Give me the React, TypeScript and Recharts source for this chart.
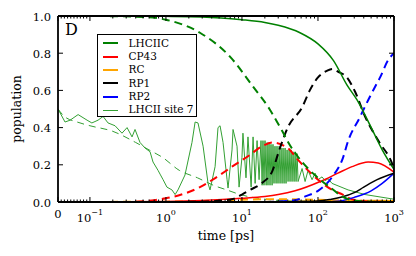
import React from 'react';
import { LineChart, Line, XAxis, YAxis, Legend } from 'recharts';

// time axis is symlog: linear from 0 to 0.1 ps, log above
const LIN_T = 0.1;
const LIN_SPAN = 0.42; // width of linear part, in decades
const toAxis = (t: number) => (t <= LIN_T ? (t / LIN_T) * LIN_SPAN : LIN_SPAN + Math.log10(t / LIN_T));
const X_MAX = toAxis(1000);

const xMajorTimes = [0, 0.1, 1, 10, 100, 1000];
const xMajorExp = ['', '−1', '0', '1', '2', '3'];
const xMinorTimes = [
  0.01, 0.02, 0.03, 0.04, 0.05, 0.06, 0.07, 0.08, 0.09,
  0.2, 0.3, 0.4, 0.5, 0.6, 0.7, 0.8, 0.9,
  2, 3, 4, 5, 6, 7, 8, 9,
  20, 30, 40, 50, 60, 70, 80, 90,
  200, 300, 400, 500, 600, 700, 800, 900,
];
const yTicks = [0, 0.2, 0.4, 0.6, 0.8, 1.0];

// LHCIIC
const lhciicT = [0, 0.1, 1, 3, 10, 20, 30, 58, 100, 160, 240, 325, 515, 700, 1000];
const lhciicV = [1.0, 1.0, 0.998, 0.995, 0.98, 0.965, 0.95, 0.91, 0.85, 0.76, 0.63, 0.55, 0.39, 0.28, 0.175];
const lhciicDashT = [0, 0.1, 0.5, 1, 2.8, 7, 14, 23, 29, 34, 42, 53, 74, 107, 154, 207, 280, 500, 1000];
const lhciicDashV = [1.0, 1.0, 0.995, 0.98, 0.91, 0.78, 0.62, 0.5, 0.43, 0.38, 0.31, 0.25, 0.18, 0.12, 0.07, 0.03, 0.01, 0.002, 0];

// CP43
const cp43T = [0, 0.1, 1, 3, 10, 20, 30, 50, 107, 183, 280, 457, 620, 1000];
const cp43V = [0, 0, 0.003, 0.008, 0.02, 0.03, 0.04, 0.06, 0.11, 0.155, 0.19, 0.215, 0.21, 0.16];
const cp43DashT = [0, 0.3, 0.7, 1.0, 1.3, 1.6, 2.8, 4.5, 7.4, 12.4, 18.4, 25, 40, 55, 74, 107, 154, 212, 280, 500, 1000];
const cp43DashV = [0, 0, 0.01, 0.02, 0.03, 0.04, 0.08, 0.13, 0.19, 0.25, 0.3, 0.32, 0.29, 0.225, 0.17, 0.11, 0.065, 0.04, 0.015, 0.002, 0];

// RC
const rcT = [0, 10, 30, 100, 300, 1000];
const rcV = [0, 0, 0.002, 0.005, 0.008, 0.007];
const rcDashT = [0, 1, 5, 10, 30, 100, 200, 400, 1000];
const rcDashV = [0, 0.002, 0.008, 0.012, 0.015, 0.012, 0.008, 0.003, 0];

// RP1
const rp1T = [0, 10, 50, 100, 150, 200, 300, 400, 600, 1000];
const rp1V = [0, 0, 0.002, 0.005, 0.015, 0.025, 0.05, 0.08, 0.12, 0.155];
const rp1DashT = [0, 1, 3, 7.4, 10, 12.8, 18, 25, 31, 40, 62, 78, 100, 131, 155, 185, 240, 310, 415, 620, 960, 1000];
const rp1DashV = [0, 0, 0.002, 0.015, 0.04, 0.065, 0.1, 0.165, 0.28, 0.4, 0.51, 0.6, 0.67, 0.705, 0.715, 0.7, 0.67, 0.59, 0.46, 0.33, 0.2, 0.18];

// RP2
const rp2T = [0, 100, 150, 200, 300, 500, 700, 1000];
const rp2V = [0, 0, 0.002, 0.006, 0.025, 0.06, 0.1, 0.155];
const rp2DashT = [0, 20, 50, 68, 100, 154, 212, 250, 350, 460, 564, 656, 830, 1000];
const rp2DashV = [0, 0, 0.01, 0.03, 0.06, 0.135, 0.235, 0.33, 0.45, 0.55, 0.62, 0.67, 0.76, 0.8];

// LHCII site 7
const site7T = [
  0, 0.022, 0.038, 0.063, 0.091, 0.106, 0.128, 0.149, 0.173, 0.214, 0.264, 0.308, 0.358, 0.392, 0.456, 0.531,
  0.618, 0.676, 0.787, 0.836, 0.917, 1.03, 1.2, 1.32, 1.44, 1.78, 2.2, 2.42, 2.64, 3.08, 3.58, 3.8, 4.43, 4.84,
  5.15, 5.64, 6.37, 6.56, 7.4, 7.63, 8.61, 9.16, 10.0, 10.3, 11.3, 12.0, 13.2, 14.0, 14.9, 15.8, 16.8, 17.8,
  18.4, 18.9, 19.5, 20.1, 20.8, 21.4, 22.0, 22.7, 23.4, 24.1, 24.9, 25.6, 26.4, 27.2, 28.1, 28.9, 29.8, 30.8,
  31.7, 32.7, 33.7, 34.7, 35.8, 36.9, 38.0, 39.2, 40.4, 41.7, 42.9, 44.3, 45.6, 47.0, 48.5, 50.0, 51.5, 53.1, 54.7,
  61.8, 67.7, 74.0, 83.6, 91.6, 100, 113, 124, 136, 153, 249, 417, 1000,
];
const site7V = [
  0.5, 0.43, 0.44, 0.47, 0.44, 0.425, 0.44, 0.46, 0.425, 0.41, 0.37, 0.4, 0.35, 0.39, 0.32, 0.29,
  0.27, 0.215, 0.17, 0.15, 0.12, 0.08, 0.065, 0.04, 0.065, 0.145, 0.32, 0.43, 0.425, 0.3, 0.1, 0.065, 0.19, 0.4,
  0.41, 0.32, 0.12, 0.075, 0.28, 0.39, 0.3, 0.08, 0.24, 0.37, 0.13, 0.35, 0.08, 0.35, 0.1, 0.33, 0.12, 0.33,
  0.09, 0.33, 0.09, 0.33, 0.09, 0.32, 0.09, 0.32, 0.09, 0.31, 0.09, 0.31, 0.1, 0.3, 0.1, 0.3, 0.1, 0.3,
  0.1, 0.29, 0.1, 0.29, 0.1, 0.29, 0.1, 0.28, 0.11, 0.28, 0.11, 0.28, 0.11, 0.27, 0.11, 0.27, 0.11, 0.26, 0.11,
  0.18, 0.11, 0.17, 0.12, 0.155, 0.12, 0.135, 0.115, 0.125, 0.1, 0.065, 0.04, 0.015,
];
const site7DashT = [0, 0.02, 0.06, 0.1, 0.2, 0.4, 0.6, 0.9, 1.5, 2.6, 4.2, 6.3, 9.5, 20, 50, 1000];
const site7DashV = [0.5, 0.46, 0.43, 0.41, 0.38, 0.32, 0.28, 0.24, 0.17, 0.13, 0.09, 0.065, 0.04, 0.015, 0.005, 0];

const legendNames = ['LHCIIC', 'CP43', 'RC', 'RP1', 'RP2', 'LHCII site 7'];

const GREEN = '#008000';
const LIGHT_GREEN = '#33a033';
const RED = '#ff0000';
const ORANGE = '#ffa500';
const BLACK = '#000000';
const BLUE = '#0000ff';
const legendColors = [GREEN, RED, ORANGE, BLACK, BLUE, LIGHT_GREEN];
const legendWidths = [2, 2, 2, 2, 2, 1.2];

const FONT = '"DejaVu Serif", serif';

const pts = (ts: number[], vs: number[]) => ts.map((t, i) => ({ x: toAxis(t), y: vs[i] }));

const series = [
  { key: 'site7Dash', data: pts(site7DashT, site7DashV), color: LIGHT_GREEN, w: 1, dash: '7 5', type: 'monotone' },
  { key: 'site7', data: pts(site7T, site7V), color: LIGHT_GREEN, w: 1, dash: undefined, type: 'linear' },
  { key: 'rcDash', data: pts(rcDashT, rcDashV), color: ORANGE, w: 2, dash: '8 5', type: 'monotone' },
  { key: 'rc', data: pts(rcT, rcV), color: ORANGE, w: 1.5, dash: undefined, type: 'monotone' },
  { key: 'cp43Dash', data: pts(cp43DashT, cp43DashV), color: RED, w: 2, dash: '8 5', type: 'monotone' },
  { key: 'cp43', data: pts(cp43T, cp43V), color: RED, w: 1.5, dash: undefined, type: 'monotone' },
  { key: 'rp2Dash', data: pts(rp2DashT, rp2DashV), color: BLUE, w: 2, dash: '8 5', type: 'monotone' },
  { key: 'rp2', data: pts(rp2T, rp2V), color: BLUE, w: 1.5, dash: undefined, type: 'monotone' },
  { key: 'rp1Dash', data: pts(rp1DashT, rp1DashV), color: BLACK, w: 2, dash: '8 5', type: 'monotone' },
  { key: 'rp1', data: pts(rp1T, rp1V), color: BLACK, w: 1.5, dash: undefined, type: 'monotone' },
  { key: 'lhciicDash', data: pts(lhciicDashT, lhciicDashV), color: GREEN, w: 2, dash: '8 5', type: 'monotone' },
  { key: 'lhciic', data: pts(lhciicT, lhciicV), color: GREEN, w: 1.5, dash: undefined, type: 'monotone' },
];

const xTicks = [...xMajorTimes, ...xMinorTimes].map(toAxis);
const majorIndex = (v: number) => xMajorTimes.findIndex((t) => Math.abs(toAxis(t) - v) < 1e-6);

// plot box edges, ticks are drawn inward from these
const PLOT = { left: 58, right: 394, top: 16, bottom: 202 };

const BottomTick = (props: any) => {
  const { x, payload } = props;
  const y = PLOT.bottom;
  const idx = majorIndex(payload.value);
  const major = idx >= 0;
  return (
    <g>
      <line x1={x} x2={x} y1={y} y2={y - (major ? 5 : 2.5)} stroke="#000" strokeWidth={1} />
      {major && idx === 0 && (
        <text x={x} y={y + 16} textAnchor="middle" fontFamily={FONT} fontSize={11.5} fill="#000">0</text>
      )}
      {major && idx > 0 && (
        <text x={x} y={y + 20} textAnchor="middle" fontFamily={FONT} fontSize={11.5} fill="#000">
          10<tspan dy={-7} fontSize={8}>{xMajorExp[idx]}</tspan>
        </text>
      )}
    </g>
  );
};

const TopTick = (props: any) => {
  const { x, payload } = props;
  const y = PLOT.top;
  const major = majorIndex(payload.value) >= 0;
  return <line x1={x} x2={x} y1={y} y2={y + (major ? 5 : 2.5)} stroke="#000" strokeWidth={1} />;
};

const LeftTick = (props: any) => {
  const { y, payload } = props;
  const x = PLOT.left;
  return (
    <g>
      <line x1={x} x2={x + 5} y1={y} y2={y} stroke="#000" strokeWidth={1} />
      <text x={x - 7} y={y + 4.5} textAnchor="end" fontFamily={FONT} fontSize={11.5} fill="#000">
        {payload.value.toFixed(1)}
      </text>
    </g>
  );
};

const RightTick = (props: any) => {
  const { y } = props;
  const x = PLOT.right;
  return <line x1={x} x2={x - 5} y1={y} y2={y} stroke="#000" strokeWidth={1} />;
};

const renderLegend = () => (
  <div
    style={{
      width: 100,
      height: 83,
      boxSizing: 'border-box',
      border: '1.5px solid #000',
      background: '#fff',
      paddingTop: 1.5,
      fontFamily: FONT,
      fontSize: 10.5,
      color: '#000',
    }}
  >
    {legendNames.map((name, i) => (
      <div key={name} style={{ display: 'flex', alignItems: 'center', height: 13.4, lineHeight: '13.4px' }}>
        <div style={{ marginLeft: 4.5, width: 15, height: 0, borderTop: `${legendWidths[i]}px solid ${legendColors[i]}` }} />
        <span style={{ marginLeft: 11, whiteSpace: 'nowrap' }}>{name}</span>
      </div>
    ))}
  </div>
);

const axisLine = { stroke: '#000', strokeWidth: 1.8 };

export default function App() {
  return (
    <div style={{ position: 'absolute', left: 0, top: 0, width: 416, height: 256, background: '#fff' }}>
      <LineChart width={416} height={256} margin={{ top: 15, right: 21, bottom: 53, left: 57 }}>
        <XAxis
          xAxisId="bottom"
          dataKey="x"
          type="number"
          domain={[0, X_MAX]}
          allowDataOverflow
          ticks={xTicks}
          interval={0}
          height={1}
          tickSize={0}
          tickMargin={0}
          tickLine={false}
          axisLine={axisLine}
          tick={BottomTick}
          label={() => (
            <text x={(PLOT.left + PLOT.right) / 2} y={PLOT.bottom + 38} textAnchor="middle" fontFamily={FONT} fontSize={12.5} fill="#000">
              time [ps]
            </text>
          )}
        />
        <XAxis
          xAxisId="top"
          orientation="top"
          dataKey="x"
          type="number"
          domain={[0, X_MAX]}
          allowDataOverflow
          ticks={xTicks}
          interval={0}
          height={1}
          tickSize={0}
          tickMargin={0}
          tickLine={false}
          axisLine={axisLine}
          tick={TopTick}
          label={() => (
            <text x={PLOT.left + 7} y={PLOT.top + 19} fontFamily={FONT} fontSize={16} fill="#000">
              D
            </text>
          )}
        />
        <YAxis
          yAxisId="left"
          type="number"
          domain={[0, 1]}
          allowDataOverflow
          ticks={yTicks}
          interval={0}
          width={1}
          tickSize={0}
          tickMargin={0}
          tickLine={false}
          axisLine={axisLine}
          tick={LeftTick}
          label={() => {
            const cx = PLOT.left - 37;
            const cy = (PLOT.top + PLOT.bottom) / 2;
            return (
              <text x={cx} y={cy} transform={`rotate(-90 ${cx} ${cy})`} textAnchor="middle" fontFamily={FONT} fontSize={12.5} fill="#000">
                population
              </text>
            );
          }}
        />
        <YAxis
          yAxisId="right"
          orientation="right"
          type="number"
          domain={[0, 1]}
          allowDataOverflow
          ticks={yTicks}
          interval={0}
          width={1}
          tickSize={0}
          tickMargin={0}
          tickLine={false}
          axisLine={axisLine}
          tick={RightTick}
        />
        {series.map((s) => (
          <Line
            key={s.key}
            data={s.data}
            dataKey="y"
            xAxisId="bottom"
            yAxisId="left"
            type={s.type as any}
            stroke={s.color}
            strokeWidth={s.w}
            strokeDasharray={s.dash}
            dot={false}
            activeDot={false}
            isAnimationActive={false}
          />
        ))}
        <Legend
          layout="vertical"
          align="center"
          verticalAlign="middle"
          content={renderLegend}
          wrapperStyle={{ position: 'absolute', left: 97, top: 34, width: 100, height: 83 }}
        />
      </LineChart>
    </div>
  );
}
